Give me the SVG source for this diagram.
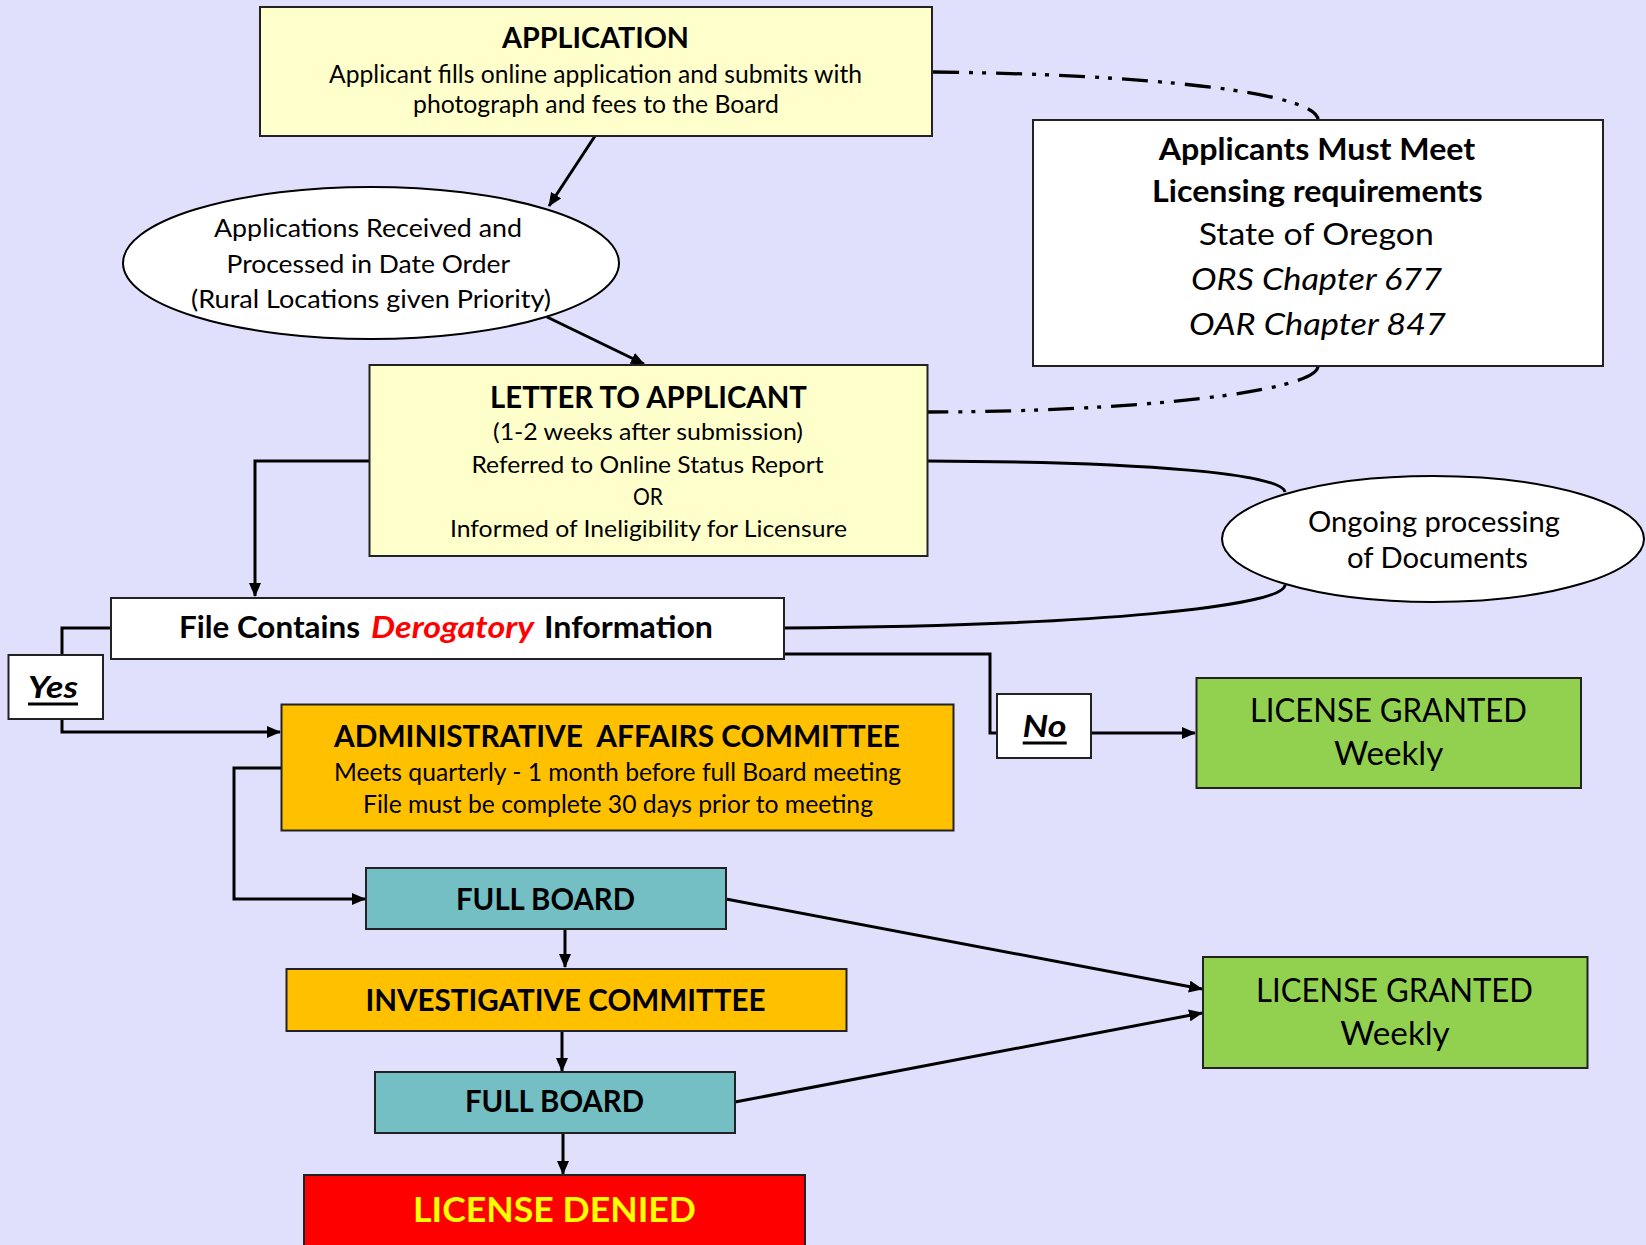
<svg xmlns="http://www.w3.org/2000/svg" width="1646" height="1245" viewBox="0 0 1646 1245">
<style>
text{font-family:Lato,"Liberation Sans",sans-serif;fill:#000;}
.b{font-weight:bold;}
.box{stroke:#222;stroke-width:2;}
.ln{fill:none;stroke:#000;stroke-width:3;}
.dd{fill:none;stroke:#000;stroke-width:3.3;stroke-dasharray:26 10 4 9 4 10;}
</style>
<defs>
<marker id="ah" markerUnits="userSpaceOnUse" markerWidth="14" markerHeight="12" refX="13" refY="6" orient="auto">
<path d="M0,0 L14,6 L0,12 z" fill="#000"/>
</marker>
</defs>
<rect width="1646" height="1245" fill="#E0E0FD"/>
<g id="connectors">
<path class="dd" d="M933,72 C1140,74 1318,92 1318,120"/>
<path class="dd" d="M1318,366 C1318,392 1130,412 928,412"/>
<path class="ln" d="M595,136 L549,206" marker-end="url(#ah)"/>
<path class="ln" d="M547,317 L644,364" marker-end="url(#ah)"/>
<path class="ln" d="M927,461 C1150,462 1282,474 1285,492"/>
<path class="ln" d="M784,628 C1100,626 1284,606 1285,585"/>
<path class="ln" d="M369,461 H255 V596" marker-end="url(#ah)"/>
<path class="ln" d="M111,628 H62 V655"/>
<path class="ln" d="M62,719 V732 H280" marker-end="url(#ah)"/>
<path class="ln" d="M784,654 H990 V733 H997"/>
<path class="ln" d="M1091,733 H1195" marker-end="url(#ah)"/>
<path class="ln" d="M281,768 H234 V899 H365" marker-end="url(#ah)"/>
<path class="ln" d="M565,929 V967" marker-end="url(#ah)"/>
<path class="ln" d="M562,1031 V1071" marker-end="url(#ah)"/>
<path class="ln" d="M563,1133 V1174" marker-end="url(#ah)"/>
<path class="ln" d="M726,899 L1202,989" marker-end="url(#ah)"/>
<path class="ln" d="M735,1102 L1202,1013" marker-end="url(#ah)"/>
</g>
<g id="application">
<rect class="box" x="260" y="7" width="672" height="129" fill="#FFFFCC"/>
<text class="b" x="595.5" y="48" font-size="29" text-anchor="middle" textLength="187" lengthAdjust="spacingAndGlyphs">APPLICATION</text>
<text x="595.5" y="82.5" font-size="24.5" text-anchor="middle" textLength="533" lengthAdjust="spacingAndGlyphs">Applicant fills online application and submits with</text>
<text x="596" y="113" font-size="24.5" text-anchor="middle" textLength="366" lengthAdjust="spacingAndGlyphs">photograph and fees to the Board</text>
</g>
<g id="received">
<ellipse cx="371" cy="263" rx="248" ry="76" fill="#fff" stroke="#000" stroke-width="2"/>
<text x="368" y="236.5" font-size="24.5" text-anchor="middle" textLength="308" lengthAdjust="spacingAndGlyphs">Applications Received and</text>
<text x="368.3" y="272.5" font-size="24.5" text-anchor="middle" textLength="283.5" lengthAdjust="spacingAndGlyphs">Processed in Date Order</text>
<text x="371" y="308" font-size="24.5" text-anchor="middle" textLength="360" lengthAdjust="spacingAndGlyphs">(Rural Locations given Priority)</text>
</g>
<g id="requirements">
<rect class="box" x="1033" y="120" width="570" height="246" fill="#fff"/>
<text class="b" x="1317" y="160" font-size="29.5" text-anchor="middle" textLength="316.6" lengthAdjust="spacingAndGlyphs">Applicants Must Meet</text>
<text class="b" x="1317.4" y="201.5" font-size="29.5" text-anchor="middle" textLength="330.6" lengthAdjust="spacingAndGlyphs">Licensing requirements</text>
<text x="1316.3" y="245" font-size="31.5" text-anchor="middle" textLength="235" lengthAdjust="spacingAndGlyphs">State of Oregon</text>
<text x="1316.5" y="290" font-size="31.5" font-style="italic" text-anchor="middle" textLength="251" lengthAdjust="spacingAndGlyphs">ORS Chapter 677</text>
<text x="1317.4" y="335" font-size="31.5" font-style="italic" text-anchor="middle" textLength="257" lengthAdjust="spacingAndGlyphs">OAR Chapter 847</text>
</g>
<g id="letter">
<rect class="box" x="369.5" y="365" width="558" height="191" fill="#FFFFCC"/>
<text class="b" x="648.5" y="408" font-size="30" text-anchor="middle" textLength="317" lengthAdjust="spacingAndGlyphs">LETTER TO APPLICANT</text>
<text x="648" y="440" font-size="24" text-anchor="middle" textLength="310" lengthAdjust="spacingAndGlyphs">(1-2 weeks after submission)</text>
<text x="647.5" y="473" font-size="24" text-anchor="middle" textLength="352" lengthAdjust="spacingAndGlyphs">Referred to Online Status Report</text>
<text x="648" y="505" font-size="24" text-anchor="middle" textLength="30" lengthAdjust="spacingAndGlyphs">OR</text>
<text x="648.5" y="536.5" font-size="24" text-anchor="middle" textLength="397" lengthAdjust="spacingAndGlyphs">Informed of Ineligibility for Licensure</text>
</g>
<g id="ongoing">
<ellipse cx="1433" cy="539" rx="211" ry="63" fill="#fff" stroke="#000" stroke-width="2"/>
<text x="1434" y="531.5" font-size="29.5" text-anchor="middle" textLength="252" lengthAdjust="spacingAndGlyphs">Ongoing processing</text>
<text x="1437.5" y="568" font-size="29.5" text-anchor="middle" textLength="181" lengthAdjust="spacingAndGlyphs">of Documents</text>
</g>
<g id="derogatory">
<rect class="box" x="111" y="598" width="673" height="61" fill="#fff"/>
<text class="b" x="179" y="638" font-size="30" textLength="181" lengthAdjust="spacingAndGlyphs">File Contains</text>
<text class="b" x="371" y="638" font-size="30" font-style="italic" style="fill:#FF0000" textLength="163" lengthAdjust="spacingAndGlyphs">Derogatory</text>
<text class="b" x="544" y="638" font-size="30" textLength="169" lengthAdjust="spacingAndGlyphs">Information</text>
</g>
<g id="yes">
<rect class="box" x="8.5" y="655" width="94.5" height="64" fill="#fff"/>
<text class="b" x="53" y="698" font-size="30" font-style="italic" text-anchor="middle" textLength="50" lengthAdjust="spacingAndGlyphs">Yes</text>
<rect x="28" y="702.5" width="50" height="3" fill="#000"/>
</g>
<g id="no">
<rect class="box" x="997" y="694" width="94" height="64" fill="#fff"/>
<text class="b" x="1044.6" y="736.5" font-size="30" font-style="italic" text-anchor="middle" textLength="44" lengthAdjust="spacingAndGlyphs">No</text>
<rect x="1022.7" y="741.5" width="44" height="3" fill="#000"/>
</g>
<g id="granted1">
<rect class="box" x="1196.5" y="678" width="384.5" height="110" fill="#92D050"/>
<text x="1388.4" y="721.7" font-size="32.5" text-anchor="middle" textLength="277" lengthAdjust="spacingAndGlyphs">LICENSE GRANTED</text>
<text x="1388.6" y="765" font-size="32.5" text-anchor="middle" textLength="109.4" lengthAdjust="spacingAndGlyphs">Weekly</text>
</g>
<g id="admin">
<rect class="box" x="281.5" y="704.5" width="672" height="126" fill="#FFC000"/>
<text class="b" x="617" y="746.5" font-size="29.5" text-anchor="middle" textLength="566" lengthAdjust="spacingAndGlyphs" style="white-space:pre">ADMINISTRATIVE  AFFAIRS COMMITTEE</text>
<text x="617.5" y="781" font-size="24.5" text-anchor="middle" textLength="567" lengthAdjust="spacingAndGlyphs">Meets quarterly - 1 month before full Board meeting</text>
<text x="618" y="813" font-size="24.5" text-anchor="middle" textLength="510" lengthAdjust="spacingAndGlyphs">File must be complete 30 days prior to meeting</text>
</g>
<g id="fullboard1">
<rect class="box" x="366" y="868" width="360" height="61" fill="#73BFC4"/>
<text class="b" x="545.5" y="909.5" font-size="30" text-anchor="middle" textLength="179" lengthAdjust="spacingAndGlyphs">FULL BOARD</text>
</g>
<g id="investigative">
<rect class="box" x="286.5" y="969" width="560" height="62" fill="#FFC000"/>
<text class="b" x="565.5" y="1010.8" font-size="30" text-anchor="middle" textLength="400" lengthAdjust="spacingAndGlyphs">INVESTIGATIVE COMMITTEE</text>
</g>
<g id="fullboard2">
<rect class="box" x="375" y="1072" width="360" height="61" fill="#73BFC4"/>
<text class="b" x="554.5" y="1112.4" font-size="30" text-anchor="middle" textLength="179" lengthAdjust="spacingAndGlyphs">FULL BOARD</text>
</g>
<g id="granted2">
<rect class="box" x="1203" y="957" width="384.5" height="111" fill="#92D050"/>
<text x="1394.5" y="1001.7" font-size="32.5" text-anchor="middle" textLength="277" lengthAdjust="spacingAndGlyphs">LICENSE GRANTED</text>
<text x="1395" y="1045" font-size="32.5" text-anchor="middle" textLength="109.5" lengthAdjust="spacingAndGlyphs">Weekly</text>
</g>
<g id="denied">
<rect class="box" x="304" y="1175" width="501" height="80" fill="#FF0000"/>
<text class="b" x="554.5" y="1222" font-size="35" text-anchor="middle" textLength="283" lengthAdjust="spacingAndGlyphs" style="fill:#FFFF00">LICENSE DENIED</text>
</g>
</svg>
